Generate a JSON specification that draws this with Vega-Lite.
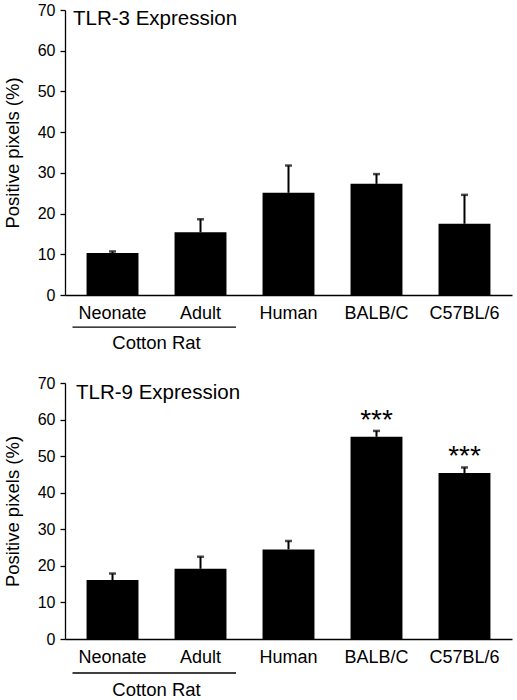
{
  "$schema": "https://vega.github.io/schema/vega-lite/v6.json",
  "padding": {"left": 3, "top": 2, "right": 5, "bottom": 5},
  "background": "white",
  "bounds": "flush",
  "spacing": 88,
  "config": {
    "view": {"stroke": null},
    "font": "Liberation Sans",
    "text": {"fontWeight": "normal"},
    "axis": {
      "domainColor": "black",
      "domainWidth": 1.3,
      "tickColor": "black",
      "tickWidth": 1.3,
      "labelColor": "black",
      "titleColor": "black",
      "grid": false,
      "labelOverlap": false
    }
  },
  "datasets": {
    "tlr": [
      {"panel": "TLR-3", "group": "Neonate", "mean": 10.3, "upper": 10.7, "sig": ""},
      {"panel": "TLR-3", "group": "Adult", "mean": 15.4, "upper": 18.6, "sig": ""},
      {"panel": "TLR-3", "group": "Human", "mean": 25.1, "upper": 31.8, "sig": ""},
      {"panel": "TLR-3", "group": "BALB/C", "mean": 27.3, "upper": 29.7, "sig": ""},
      {"panel": "TLR-3", "group": "C57BL/6", "mean": 17.5, "upper": 24.6, "sig": ""},
      {"panel": "TLR-9", "group": "Neonate", "mean": 16.1, "upper": 17.9, "sig": ""},
      {"panel": "TLR-9", "group": "Adult", "mean": 19.2, "upper": 22.5, "sig": ""},
      {"panel": "TLR-9", "group": "Human", "mean": 24.5, "upper": 26.8, "sig": ""},
      {"panel": "TLR-9", "group": "BALB/C", "mean": 55.3, "upper": 56.9, "sig": "***"},
      {"panel": "TLR-9", "group": "C57BL/6", "mean": 45.4, "upper": 46.9, "sig": "***"}
    ],
    "group": [
      {"label": "Cotton Rat", "from": "Neonate", "to": "Adult"}
    ]
  },
  "vconcat": [
    {
      "width": 447,
      "height": 285,
      "data": {"name": "tlr"},
      "transform": [{"filter": "datum.panel === 'TLR-3'"}],
      "encoding": {
        "x": {
          "field": "group", "type": "nominal", "sort": null,
          "scale": {"paddingInner": 0.41, "paddingOuter": 0.245},
          "axis": {"title": null, "ticks": false, "tickSize": 0, "labelPadding": 9, "labelFontSize": 18, "labelAngle": 0}
        }
      },
      "layer": [
        {
          "mark": {"type": "bar", "color": "black"},
          "encoding": {
            "y": {
              "field": "mean", "type": "quantitative",
              "scale": {"domain": [0, 70], "nice": false},
              "axis": {
                "title": "Positive pixels (%)", "titleFontSize": 18.5, "titleFontWeight": "normal", "titlePadding": 15,
                "values": [0, 5, 10, 15, 20, 25, 30, 35, 40, 45, 50, 55, 60, 65, 70],
                "tickCount": 14,
                "labelExpr": "datum.value % 10 === 0 ? datum.label : ''",
                "labelOverlap": false,
                "labelFontSize": 16, "tickSize": 5, "labelPadding": 5
              }
            }
          }
        },
        {
          "mark": {"type": "rule", "color": "black", "strokeWidth": 2},
          "encoding": {"y": {"field": "mean", "type": "quantitative"}, "y2": {"field": "upper"}}
        },
        {
          "mark": {"type": "tick", "color": "black", "size": 7, "thickness": 2.5, "orient": "horizontal"},
          "encoding": {"y": {"field": "upper", "type": "quantitative"}}
        },
        {
          "data": {"values": [{"title": "TLR-3 Expression"}]},
          "mark": {"type": "text", "fontSize": 20.5, "fontWeight": "normal", "align": "left", "baseline": "top", "dx": -39.5, "dy": -1.5, "color": "black"},
          "encoding": {"x": {"datum": "Neonate"}, "y": {"datum": 70}, "text": {"field": "title"}}
        },
        {
          "data": {"name": "group"},
          "mark": {"type": "rule", "color": "black", "strokeWidth": 1.3, "xOffset": -40, "x2Offset": 35.5},
          "encoding": {"x": {"field": "from"}, "x2": {"field": "to"}, "y": {"datum": -7.9}}
        },
        {
          "data": {"name": "group"},
          "mark": {"type": "text", "fontSize": 18.5, "fontWeight": "normal", "align": "center", "baseline": "middle", "dx": 44, "color": "black"},
          "encoding": {"x": {"field": "from"}, "y": {"datum": -11.8}, "text": {"field": "label"}}
        }
      ]
    },
    {
      "width": 447,
      "height": 256,
      "data": {"name": "tlr"},
      "transform": [{"filter": "datum.panel === 'TLR-9'"}],
      "encoding": {
        "x": {
          "field": "group", "type": "nominal", "sort": null,
          "scale": {"paddingInner": 0.41, "paddingOuter": 0.245},
          "axis": {"title": null, "ticks": false, "tickSize": 0, "labelPadding": 9, "labelFontSize": 18, "labelAngle": 0}
        }
      },
      "layer": [
        {
          "mark": {"type": "bar", "color": "black"},
          "encoding": {
            "y": {
              "field": "mean", "type": "quantitative",
              "scale": {"domain": [0, 70], "nice": false},
              "axis": {
                "title": "Positive pixels (%)", "titleFontSize": 18.5, "titleFontWeight": "normal", "titlePadding": 15,
                "values": [0, 5, 10, 15, 20, 25, 30, 35, 40, 45, 50, 55, 60, 65, 70],
                "tickCount": 14,
                "labelExpr": "datum.value % 10 === 0 ? datum.label : ''",
                "labelOverlap": false,
                "labelFontSize": 16, "tickSize": 5, "labelPadding": 5
              }
            }
          }
        },
        {
          "mark": {"type": "rule", "color": "black", "strokeWidth": 2},
          "encoding": {"y": {"field": "mean", "type": "quantitative"}, "y2": {"field": "upper"}}
        },
        {
          "mark": {"type": "tick", "color": "black", "size": 7, "thickness": 2.5, "orient": "horizontal"},
          "encoding": {"y": {"field": "upper", "type": "quantitative"}}
        },
        {
          "transform": [{"filter": "datum.sig !== ''"}],
          "mark": {"type": "text", "fontSize": 28, "fontWeight": "normal", "align": "center", "baseline": "alphabetic", "dy": -2, "color": "black"},
          "encoding": {"y": {"field": "upper", "type": "quantitative"}, "text": {"field": "sig"}}
        },
        {
          "data": {"values": [{"title": "TLR-9 Expression"}]},
          "mark": {"type": "text", "fontSize": 20.5, "fontWeight": "normal", "align": "left", "baseline": "top", "dx": -36.5, "dy": -0.5, "color": "black"},
          "encoding": {"x": {"datum": "Neonate"}, "y": {"datum": 70}, "text": {"field": "title"}}
        },
        {
          "data": {"name": "group"},
          "mark": {"type": "rule", "color": "black", "strokeWidth": 1.3, "xOffset": -40, "x2Offset": 35.5},
          "encoding": {"x": {"field": "from"}, "x2": {"field": "to"}, "y": {"datum": -9.3}}
        },
        {
          "data": {"name": "group"},
          "mark": {"type": "text", "fontSize": 18.5, "fontWeight": "normal", "align": "center", "baseline": "middle", "dx": 44, "color": "black"},
          "encoding": {"x": {"field": "from"}, "y": {"datum": -13.9}, "text": {"field": "label"}}
        }
      ]
    }
  ]
}
